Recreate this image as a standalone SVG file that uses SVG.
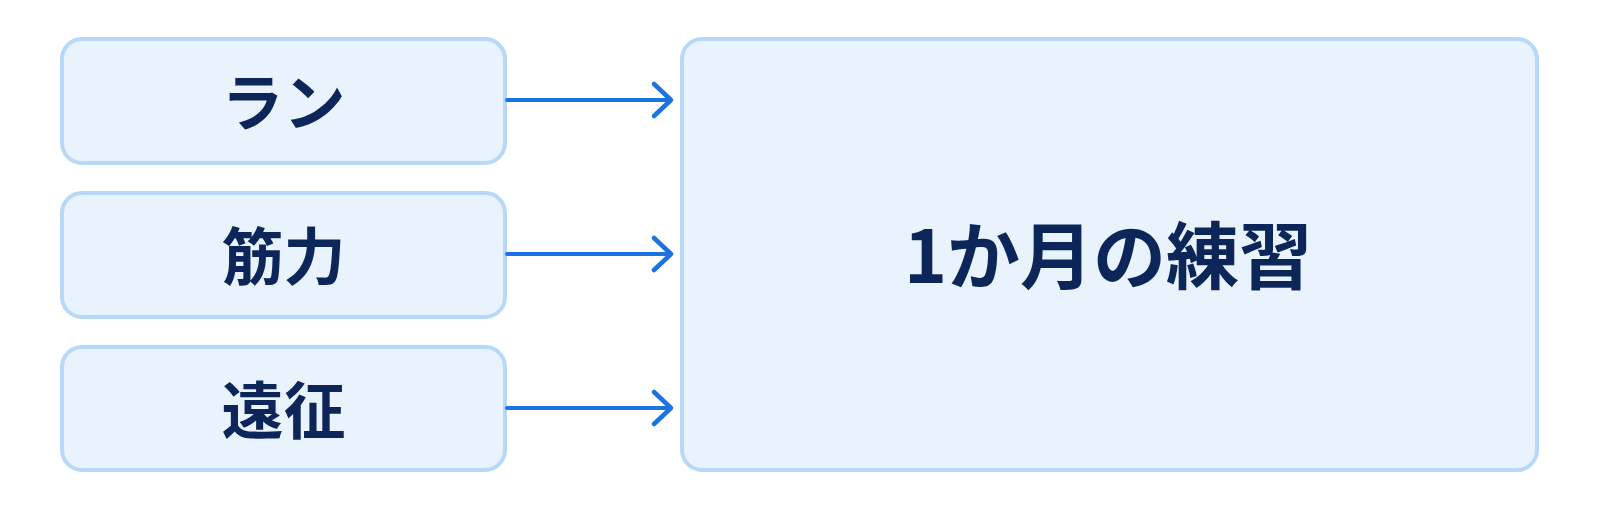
<svg xmlns="http://www.w3.org/2000/svg" width="1600" height="509" viewBox="0 0 1600 509">
  <defs>
    <style>
      .box { fill: #e8f3fd; stroke: #b8d8f8; stroke-width: 4; }
      .lbl { font-family: "Noto Sans CJK JP", "Noto Sans", sans-serif; font-weight: 700; fill: #0c2659; text-anchor: middle; dominant-baseline: central; }
      .conn { stroke: #1a73e0; stroke-width: 4; fill: none; stroke-linecap: round; stroke-linejoin: round; }
      .head { stroke: #1a73e0; stroke-width: 4.5; fill: none; stroke-linecap: round; stroke-linejoin: round; }
    </style>
  </defs>
  <rect width="1600" height="509" fill="#ffffff"/>
  <g id="node-run">
    <rect class="box" x="62" y="39" width="443" height="124" rx="20"/>
    <text class="lbl" x="283.5" y="99" font-size="62">ラン</text>
  </g>
  <g id="node-kinryoku">
    <rect class="box" x="62" y="193" width="443" height="124" rx="20"/>
    <text class="lbl" x="283.5" y="253" font-size="62">筋力</text>
  </g>
  <g id="node-ensei">
    <rect class="box" x="62" y="347" width="443" height="123" rx="20"/>
    <text class="lbl" x="283.5" y="407" font-size="62">遠征</text>
  </g>
  <g id="node-practice">
    <rect class="box" x="682" y="39" width="855" height="431" rx="20"/>
    <text class="lbl" x="1108" y="251" font-size="73">1か月の練習</text>
  </g>
  <g id="connectors">
    <path class="conn" d="M507 100 H670"/>
    <path class="head" d="M654 84 L671 100 L654 116"/>
    <path class="conn" d="M507 254 H670"/>
    <path class="head" d="M654 238 L671 254 L654 270"/>
    <path class="conn" d="M507 408 H670"/>
    <path class="head" d="M654 392 L671 408 L654 424"/>
  </g>
</svg>
